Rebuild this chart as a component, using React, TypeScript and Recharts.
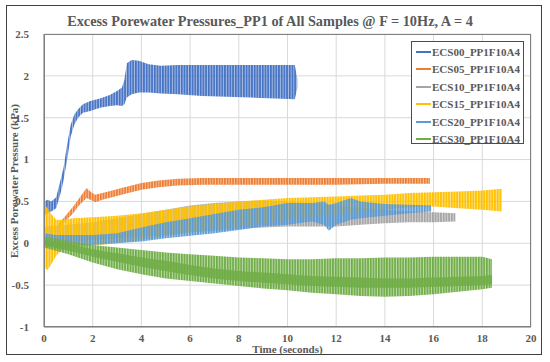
import React from 'react';
import { ComposedChart, Area, XAxis, YAxis, CartesianGrid } from 'recharts';

const title = 'Excess Porewater Pressures_PP1 of All Samples @ F = 10Hz, A = 4';
const xLabel = 'Time (seconds)';
const yLabel = 'Excess Porewater Pressure (kPa)';
const xTicks = [0, 2, 4, 6, 8, 10, 12, 14, 16, 18, 20];
const yTicks = [-1, -0.5, 0, 0.5, 1, 1.5, 2, 2.5];

const seriesNames = ['ECS00_PP1F10A4', 'ECS05_PP1F10A4', 'ECS10_PP1F10A4', 'ECS15_PP1F10A4', 'ECS20_PP1F10A4', 'ECS30_PP1F10A4'];
const seriesColors = ['#4472C4', '#ED7D31', '#A5A5A5', '#FFC000', '#5B9BD5', '#70AD47'];

// ECS00 envelope (time, lower, upper)
const ecs00Time = [0, 0.15, 0.3, 0.5, 0.7, 0.8, 0.95, 1.1, 1.25, 1.4, 1.6, 1.9, 2.3, 2.7, 3.0, 3.2, 3.3, 3.4, 3.6, 3.9, 4.3, 4.8, 5.5, 6.5, 7.5, 8.5, 9.5, 10.3, 10.4];
const ecs00Low = [0.33, 0.36, 0.38, 0.42, 0.62, 0.75, 1.0, 1.28, 1.42, 1.5, 1.56, 1.58, 1.62, 1.64, 1.65, 1.64, 1.66, 1.74, 1.78, 1.8, 1.8, 1.79, 1.78, 1.76, 1.75, 1.74, 1.73, 1.72, 1.85];
const ecs00High = [0.5, 0.52, 0.5, 0.55, 0.78, 0.9, 1.18, 1.42, 1.54, 1.6, 1.66, 1.7, 1.73, 1.77, 1.82, 1.86, 1.95, 2.15, 2.19, 2.18, 2.14, 2.12, 2.13, 2.13, 2.13, 2.13, 2.13, 2.13, 1.97];

// ECS05
const ecs05Time = [0.6, 0.8, 1.0, 1.2, 1.4, 1.6, 1.75, 1.9, 2.1, 2.4, 2.8, 3.3, 4.0, 4.7, 5.5, 6.5, 8, 10, 12, 14, 15.85];
const ecs05Low = [0.18, 0.24, 0.3, 0.36, 0.44, 0.5, 0.54, 0.52, 0.49, 0.52, 0.55, 0.59, 0.64, 0.67, 0.69, 0.7, 0.7, 0.7, 0.7, 0.71, 0.71];
const ecs05High = [0.24, 0.3, 0.37, 0.44, 0.52, 0.6, 0.66, 0.62, 0.58, 0.6, 0.63, 0.67, 0.72, 0.75, 0.77, 0.78, 0.78, 0.78, 0.78, 0.78, 0.78];

// ECS10
const ecs10Time = [0, 1, 2, 3, 4, 5, 6, 7, 8, 9, 10, 11, 12, 13, 14, 15, 16, 16.9];
const ecs10Low = [0.0, 0.02, 0.04, 0.06, 0.08, 0.1, 0.13, 0.15, 0.17, 0.19, 0.2, 0.2, 0.2, 0.22, 0.24, 0.25, 0.25, 0.26];
const ecs10High = [0.2, 0.22, 0.25, 0.3, 0.35, 0.4, 0.45, 0.48, 0.5, 0.51, 0.5, 0.48, 0.45, 0.42, 0.4, 0.38, 0.37, 0.36];

// ECS15
const ecs15Time = [0, 0.05, 0.15, 0.3, 0.5, 0.8, 1.2, 2, 3, 4, 5, 6, 7, 8, 9, 10, 11, 12, 13, 14, 15, 16, 17, 18, 18.8];
const ecs15Low = [-0.1, -0.3, -0.32, -0.25, -0.15, -0.06, -0.04, -0.03, 0.0, 0.04, 0.09, 0.13, 0.17, 0.2, 0.24, 0.28, 0.31, 0.34, 0.37, 0.4, 0.43, 0.44, 0.42, 0.4, 0.38];
const ecs15High = [0.2, 0.45, 0.42, 0.35, 0.28, 0.28, 0.3, 0.31, 0.33, 0.36, 0.4, 0.44, 0.47, 0.5, 0.52, 0.54, 0.55, 0.56, 0.57, 0.58, 0.6, 0.61, 0.62, 0.63, 0.65];

// ECS20
const ecs20Time = [0, 0.5, 1, 2, 3, 4, 5, 6, 7, 8, 9, 10, 11, 11.5, 11.7, 12, 12.6, 13, 14, 15, 15.9];
const ecs20Low = [-0.05, -0.04, -0.03, -0.02, 0.0, 0.02, 0.06, 0.09, 0.12, 0.16, 0.2, 0.22, 0.26, 0.22, 0.15, 0.22, 0.28, 0.3, 0.33, 0.36, 0.38];
const ecs20High = [0.12, 0.1, 0.1, 0.1, 0.12, 0.19, 0.25, 0.3, 0.35, 0.4, 0.43, 0.48, 0.48, 0.5, 0.46, 0.48, 0.54, 0.5, 0.47, 0.46, 0.45];

// ECS30 (outer envelope)
const ecs30Time = [0, 1, 2, 3, 4, 5, 6, 7, 8, 9, 10, 11, 12, 13, 14, 15, 16, 17, 18, 18.4];
const ecs30Low = [-0.05, -0.13, -0.23, -0.31, -0.37, -0.42, -0.45, -0.48, -0.51, -0.54, -0.56, -0.59, -0.61, -0.63, -0.64, -0.63, -0.61, -0.58, -0.55, -0.53];
const ecs30High = [0.08, 0.03, -0.02, -0.05, -0.08, -0.11, -0.13, -0.15, -0.17, -0.18, -0.19, -0.19, -0.18, -0.18, -0.17, -0.17, -0.16, -0.16, -0.16, -0.19];
// ECS30 dense core
const ecs30CoreLow = [-0.02, -0.09, -0.16, -0.22, -0.28, -0.33, -0.38, -0.42, -0.45, -0.47, -0.49, -0.51, -0.52, -0.53, -0.53, -0.53, -0.52, -0.51, -0.5, -0.49];
const ecs30CoreHigh = [0.04, -0.01, -0.07, -0.12, -0.17, -0.21, -0.26, -0.3, -0.33, -0.35, -0.37, -0.39, -0.4, -0.41, -0.42, -0.42, -0.41, -0.4, -0.39, -0.38];

const build = (time: number[], low: number[], high: number[]) =>
  time.map((t, i) => ({ t, range: [low[i], high[i]] }));

const seriesData = [
  build(ecs00Time, ecs00Low, ecs00High),
  build(ecs05Time, ecs05Low, ecs05High),
  build(ecs10Time, ecs10Low, ecs10High),
  build(ecs15Time, ecs15Low, ecs15High),
  build(ecs20Time, ecs20Low, ecs20High),
  build(ecs30Time, ecs30Low, ecs30High),
];
const ecs30Core = build(ecs30Time, ecs30CoreLow, ecs30CoreHigh);

const FONT = '"Liberation Serif", "Times New Roman", serif';
const TEXT = '#595959';

const PLOT_L = 44;
const PLOT_R = 531;
const PLOT_T = 34;
const PLOT_B = 327;

export default function App() {
  return (
    <div style={{ position: 'absolute', left: 0, top: 0, width: 550, height: 362, background: '#fff', fontFamily: FONT }}>
      <div style={{ position: 'absolute', left: 6, top: 5, width: 534, height: 348, border: '1.5px solid #404040' }} />
      <div style={{ position: 'absolute', left: 0, top: 0 }}>
        <ComposedChart width={550} height={362} margin={{ top: PLOT_T, right: 550 - PLOT_R, bottom: 0, left: 0 }}>
          <defs>
            {seriesColors.map((c, i) => (
              <pattern key={i} id={`stripe${i}`} patternUnits="userSpaceOnUse" width={2.7} height={10}>
                <rect x={0} y={0} width={2.7} height={10} fill={c} fillOpacity={0.45} />
                <rect x={0} y={0} width={1.7} height={10} fill={c} />
              </pattern>
            ))}
          </defs>
          <CartesianGrid stroke="#D9D9D9" strokeWidth={1} />
          <XAxis
            type="number"
            dataKey="t"
            domain={[0, 20]}
            ticks={xTicks}
            allowDataOverflow
            height={362 - PLOT_B}
            tickLine={false}
            tickMargin={1}
            axisLine={{ stroke: '#808080' }}
            tick={{ fontFamily: FONT, fontSize: 11, fontWeight: 'bold', fill: TEXT }}
          />
          <YAxis
            type="number"
            domain={[-1, 2.5]}
            ticks={yTicks}
            allowDataOverflow
            width={PLOT_L}
            tickLine={false}
            tickMargin={9}
            axisLine={{ stroke: '#808080' }}
            tick={{ fontFamily: FONT, fontSize: 11, fontWeight: 'bold', fill: TEXT }}
          />
          {seriesData.map((d, i) => (
            <Area
              key={seriesNames[i]}
              data={d}
              dataKey="range"
              name={seriesNames[i]}
              type="linear"
              stroke="none"
              fill={`url(#stripe${i})`}
              fillOpacity={1}
              isAnimationActive={false}
              dot={false}
              activeDot={false}
            />
          ))}
          <Area
            data={ecs30Core}
            dataKey="range"
            name="ECS30 core"
            type="monotone"
            stroke="none"
            fill={seriesColors[5]}
            fillOpacity={0.85}
            isAnimationActive={false}
            dot={false}
            activeDot={false}
          />
        </ComposedChart>
      </div>
      <div style={{ position: 'absolute', left: PLOT_L, top: PLOT_T, width: PLOT_R - PLOT_L, height: PLOT_B - PLOT_T, border: '1px solid #808080', boxSizing: 'border-box', pointerEvents: 'none' }} />
      <div style={{ position: 'absolute', left: 0, top: 13, width: 540, textAlign: 'center', fontSize: 14.3, fontWeight: 'bold', color: TEXT, whiteSpace: 'nowrap' }}>
        {title}
      </div>
      <div style={{ position: 'absolute', left: PLOT_L, width: PLOT_R - PLOT_L, top: 345, textAlign: 'center', fontSize: 11, fontWeight: 'bold', color: TEXT, lineHeight: '9px' }}>
        {xLabel}
      </div>
      <div style={{ position: 'absolute', left: 14, top: (PLOT_T + PLOT_B) / 2, transform: 'translate(-50%, -50%) rotate(-90deg)', fontSize: 11, fontWeight: 'bold', color: TEXT, whiteSpace: 'nowrap', lineHeight: '12px' }}>
        {yLabel}
      </div>
      <div style={{ position: 'absolute', left: 411, top: 41, width: 113, height: 103, border: '1.5px solid #FF0000', boxSizing: 'border-box', background: '#fff' }}>
        {seriesNames.map((n, i) => (
          <div key={n} style={{ position: 'absolute', left: 4, top: 1 + i * 17.5, height: 17, display: 'flex', alignItems: 'center', fontSize: 11, fontWeight: 'bold', color: TEXT, whiteSpace: 'nowrap' }}>
            <span style={{ display: 'inline-block', width: 15, height: 2, background: seriesColors[i], marginRight: 1 }} />
            {n}
          </div>
        ))}
      </div>
    </div>
  );
}
